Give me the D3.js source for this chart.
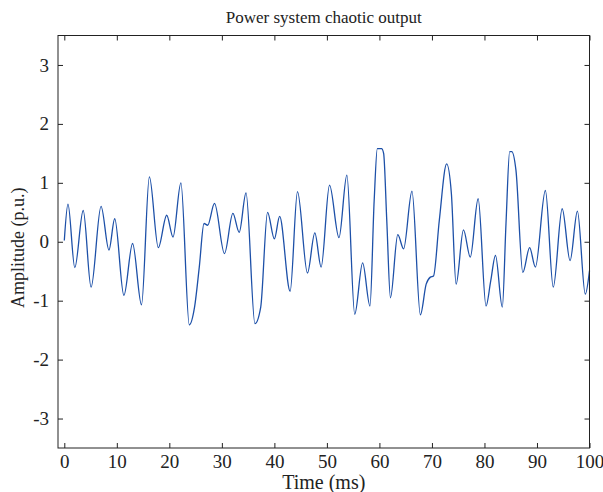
<!DOCTYPE html>
<html>
<head>
<meta charset="utf-8">
<script src="https://cdn.jsdelivr.net/npm/d3@7"></script>
<style>
  body { margin: 0; background: #fff; }
  text { font-family: "Liberation Serif", "Times New Roman", serif; fill: #222; }
</style>
</head>
<body>
<div id="chart"></div>
<script>
// values (time in ms, amplitude in p.u.)
const timeMs = [
  0, 0.7, 2.0, 3.6, 5.1, 7.0, 8.5, 9.6, 11.35, 13.0, 14.7, 16.2, 17.9, 19.5,
  20.7, 22.2, 23.8, 24.8, 25.7, 26.6, 27.3, 28.6, 30.5, 32.1, 33.3, 34.6, 36.3,
  37.4, 38.7, 40.0, 41.0, 43.0, 44.4, 46.3, 47.7, 48.9, 50.5, 52.3, 53.8, 55.3,
  56.8, 58.2, 59.0, 59.6, 60.4, 60.8, 61.4, 62.1, 63.5, 64.6, 66.2, 67.8, 68.9,
  69.7, 70.3, 71.4, 72.8, 73.7, 74.6, 76.0, 77.3, 78.8, 80.3, 81.2, 82.1, 83.4,
  84.1, 84.8, 85.2, 86.0, 87.3, 88.6, 89.7, 91.6, 93.1, 94.8, 96.3, 97.7, 99.2,
  100
];
const amplitude = [
  0.02, 0.64, -0.44, 0.53, -0.77, 0.60, -0.14, 0.39, -0.91, -0.03, -1.07, 1.10, -0.10, 0.45,
  0.08, 1.00, -1.41, -1.11, -0.43, 0.31, 0.28, 0.65, -0.20, 0.48, 0.16, 0.83, -1.39,
  -1.11, 0.50, 0.05, 0.43, -0.84, 0.85, -0.53, 0.15, -0.43, 0.96, 0.07, 1.13, -1.23,
  -0.36, -1.09, 0.70, 1.58, 1.58, 1.50, 0.36, -0.95, 0.12, -0.12, 0.86, -1.24, -0.72,
  -0.60, -0.58, 0.36, 1.32, 0.82, -0.72, 0.20, -0.26, 0.73, -1.09, -0.66, -0.23, -1.11,
  0.31, 1.53, 1.53, 1.21, -0.52, -0.10, -0.43, 0.87, -0.77, 0.56, -0.32, 0.52, -0.89,
  -0.49
];
const xTicks = [0, 10, 20, 30, 40, 50, 60, 70, 80, 90, 100];
const yTicks = [-3, -2, -1, 0, 1, 2, 3];

const width = 603, height = 492;
const margin = { top: 35.5, right: 13.5, bottom: 44, left: 58 };
const innerW = width - margin.left - margin.right;
const innerH = height - margin.top - margin.bottom;

const svg = d3.select("#chart").append("svg")
  .attr("width", width)
  .attr("height", height);

const x = d3.scaleLinear([-1.2, 100], [margin.left, margin.left + innerW]);
const y = d3.scaleLinear([-3.5, 3.5], [margin.top + innerH, margin.top]);

const data = d3.zip(timeMs, amplitude);

// signal
svg.append("path")
  .datum(data)
  .attr("fill", "none")
  .attr("stroke", "#1d50a8")
  .attr("stroke-width", 1.3)
  .attr("d", d3.line().x((d) => x(d[0])).y((d) => y(d[1])).curve(d3.curveMonotoneX));

// axes with inward ticks on all sides
const tickLen = 5;
const styleAxis = (g) => {
  g.select(".domain").remove();
  g.selectAll(".tick line").attr("stroke", "#222");
  g.selectAll(".tick text").style("font-size", "19px").style("font-family", "Liberation Serif");
};

svg.append("g")
  .attr("transform", `translate(0, ${margin.top + innerH})`)
  .call(d3.axisBottom(x).tickValues(xTicks).tickSizeInner(-tickLen).tickSizeOuter(0).tickPadding(7))
  .call(styleAxis);
svg.append("g")
  .attr("transform", `translate(0, ${margin.top})`)
  .call(d3.axisTop(x).tickValues(xTicks).tickSizeInner(-tickLen).tickSizeOuter(0).tickFormat(""))
  .call(styleAxis);
svg.append("g")
  .attr("transform", `translate(${margin.left}, 0)`)
  .call(d3.axisLeft(y).tickValues(yTicks).tickSizeInner(-tickLen).tickSizeOuter(0).tickPadding(9)
    .tickFormat((d) => String(d).replace("\u2212", "-")))
  .call(styleAxis);
svg.append("g")
  .attr("transform", `translate(${margin.left + innerW}, 0)`)
  .call(d3.axisRight(y).tickValues(yTicks).tickSizeInner(-tickLen).tickSizeOuter(0).tickFormat(""))
  .call(styleAxis);

// frame
svg.append("rect")
  .attr("x", margin.left)
  .attr("y", margin.top)
  .attr("width", innerW)
  .attr("height", innerH)
  .attr("fill", "none")
  .attr("stroke", "#222")
  .attr("stroke-width", 1);

// labels
svg.append("text")
  .attr("x", margin.left + innerW / 2)
  .attr("y", 23)
  .attr("text-anchor", "middle")
  .style("font-size", "17px")
  .text("Power system chaotic output");

svg.append("text")
  .attr("x", margin.left + innerW / 2)
  .attr("y", 489)
  .attr("text-anchor", "middle")
  .style("font-size", "20px")
  .text("Time (ms)");

svg.append("text")
  .attr("transform", `translate(24, ${margin.top + innerH / 2 + 6}) rotate(-90)`)
  .attr("text-anchor", "middle")
  .style("font-size", "18px")
  .text("Amplitude (p.u.)");
</script>
</body>
</html>
